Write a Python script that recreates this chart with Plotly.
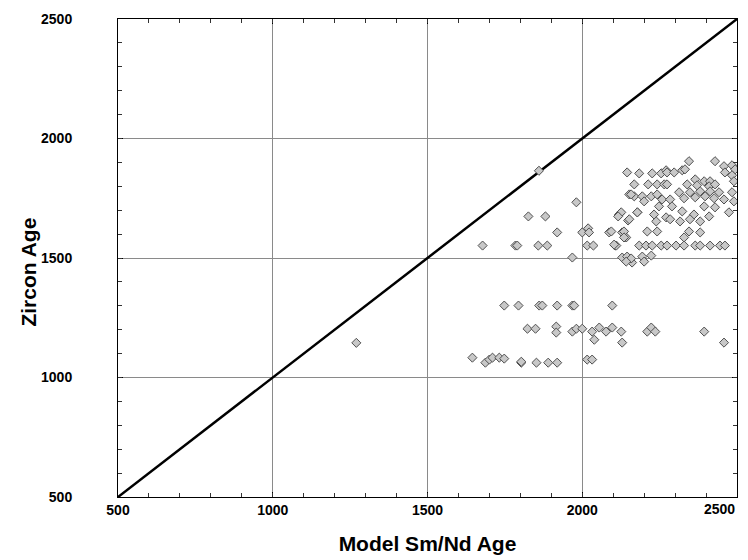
import plotly.graph_objects as go

# Model Sm/Nd age (x) and zircon age (y) of the samples
sm_nd_age = [
    1860, 1270,
    1826, 1881, 1678, 1784, 1790, 1858, 1887,
    1981, 1919, 1968, 2000, 2019, 2022, 2016, 2036, 2087, 2106, 2119, 2148, 2129, 2142,
    2129, 2145, 2161, 2145, 2168, 2152, 2168, 2178,
    2184, 2226, 2255, 2271, 2213, 2242, 2265, 2158, 2194, 2223, 2242, 2258, 2200, 2248,
    2126, 2152, 2178, 2232, 2239, 2271, 2094, 2135, 2210, 2242, 2135, 2110, 2184, 2206,
    2226, 2255, 2158, 2142, 2194, 2223, 2200,
    2345, 2429, 2458, 2484, 2494, 2274, 2297, 2323, 2332, 2461, 2484, 2365, 2394, 2413,
    2490, 2274, 2339, 2371, 2410, 2429, 2313, 2348, 2381, 2413, 2442, 2484, 2284, 2329,
    2365, 2397, 2426, 2458, 2490, 2290, 2323, 2361, 2394, 2410, 2429, 2474, 2284, 2316,
    2348, 2381, 2345, 2381, 2329, 2303, 2329, 2365, 2381, 2413, 2445, 2461, 2274,
    2116, 2103,
    1748, 1794, 1861, 1871, 1919, 1968, 1974, 1823, 1849, 1916, 1916, 1968, 1981, 2000,
    1645, 1687, 1700, 1710, 1732, 1748, 1803, 1803, 1852, 1890, 1919, 2016,
    2097, 2032, 2039, 2055, 2077, 2097, 2126, 2129, 2032, 2210, 2223, 2236, 2394, 2458,
]
zircon_age = [
    1865, 1145,
    1674, 1674, 1552, 1552, 1552, 1552, 1552,
    1733, 1607, 1502, 1607, 1624, 1607, 1552, 1552, 1607, 1552, 1682, 1657, 1607, 1586,
    1502, 1506, 1481, 1858, 1808, 1766, 1758, 1691,
    1854, 1854, 1854, 1867, 1808, 1808, 1808, 1766, 1758, 1758, 1766, 1745, 1737, 1716,
    1691, 1662, 1691, 1682, 1653, 1670, 1611, 1611, 1611, 1611, 1586, 1552, 1552, 1552,
    1552, 1552, 1498, 1485, 1506, 1510, 1485,
    1905, 1905, 1884, 1888, 1871, 1858, 1858, 1867, 1871, 1858, 1846, 1829, 1821, 1821,
    1821, 1808, 1808, 1804, 1800, 1808, 1775, 1775, 1779, 1779, 1775, 1775, 1745, 1750,
    1754, 1758, 1750, 1745, 1737, 1716, 1695, 1682, 1716, 1674, 1712, 1691, 1662, 1653,
    1662, 1653, 1611, 1607, 1586, 1552, 1552, 1552, 1552, 1552, 1552, 1552, 1552,
    1674, 1556,
    1301, 1301, 1301, 1301, 1301, 1301, 1301, 1204, 1204, 1213, 1188, 1192, 1204, 1204,
    1083, 1062, 1075, 1083, 1083, 1079, 1062, 1066, 1062, 1062, 1062, 1075,
    1301, 1192, 1158, 1209, 1192, 1209, 1192, 1146, 1075, 1192, 1209, 1192, 1192, 1146,
]
# 1:1 reference line
line_x = [500, 2500]
line_y = [500, 2500]
axis_min, axis_max, major_step, minor_step = 500, 2500, 500, 100
x_tick_vals = [500, 1000, 1500, 2000, 2500]
x_tick_text = ["500", "1000", "1500", "2000", ""]   # last label drawn right-aligned below
x_title = "Model Sm/Nd Age"
y_title = "Zircon Age"

FONT = "Liberation Sans, Arial, sans-serif"

fig = go.Figure()
fig.add_trace(go.Scatter(
    x=line_x, y=line_y, mode="lines",
    line=dict(color="black", width=2.5), hoverinfo="skip", showlegend=False,
))
fig.add_trace(go.Scatter(
    x=sm_nd_age, y=zircon_age, mode="markers",
    marker=dict(symbol="diamond", size=7, color="#c8c8c8",
                line=dict(color="#505050", width=1)),
    showlegend=False,
))

tickfont = dict(family=FONT, size=14, color="black", weight="bold")
common = dict(
    range=[axis_min, axis_max],
    showgrid=True, gridcolor="#8a8a8a", gridwidth=1,
    showline=True, linecolor="black", linewidth=1, mirror="allticks",
    ticks="inside", ticklen=5, tickcolor="black",
    zeroline=False, fixedrange=True, tickfont=tickfont,
)
minor_common = dict(
    range=[axis_min, axis_max], tickmode="linear", tick0=axis_min, dtick=minor_step,
    ticks="inside", ticklen=4, tickcolor="#333", showticklabels=False,
    showgrid=False, showline=False, zeroline=False, mirror="allticks", fixedrange=True,
)

fig.update_layout(
    width=748, height=560,
    margin=dict(l=118, r=11, t=19, b=63, autoexpand=False),
    paper_bgcolor="white", plot_bgcolor="white",
    xaxis=dict(**common, tickmode="array", tickvals=x_tick_vals, ticktext=x_tick_text,
               title=dict(text=x_title, standoff=19,
                          font=dict(family=FONT, size=21, color="black", weight="bold"))),
    yaxis=dict(**common, tickmode="linear", tick0=axis_min, dtick=major_step,
               ticklabelstandoff=42),
    xaxis2=dict(**minor_common, overlaying="x", anchor="y"),
    yaxis2=dict(**minor_common, overlaying="y", anchor="x"),
    annotations=[
        dict(text=y_title, textangle=-90, xref="paper", yref="paper",
             x=-0.145, y=0.47, xanchor="center", yanchor="middle", showarrow=False,
             font=dict(family=FONT, size=21, color="black", weight="bold")),
        dict(text=str(x_tick_vals[-1]), xref="x", yref="paper",
             x=x_tick_vals[-1], y=0, xanchor="right", yanchor="top", yshift=-2,
             showarrow=False, font=tickfont),
    ],
)
# invisible trace carrying the minor-tick axes
fig.add_trace(go.Scatter(x=[axis_min], y=[axis_min], xaxis="x2", yaxis="y2",
                         mode="markers", marker=dict(opacity=0), hoverinfo="skip",
                         showlegend=False))

fig.write_html("out.html", config={"displayModeBar": False})

# remove the default page margin so the figure sits at the window origin
with open("out.html", "r", encoding="utf-8") as fh:
    html = fh.read()
html = html.replace("<head>", "<head><style>html,body{margin:0;padding:0;}</style>", 1)
with open("out.html", "w", encoding="utf-8") as fh:
    fh.write(html)
